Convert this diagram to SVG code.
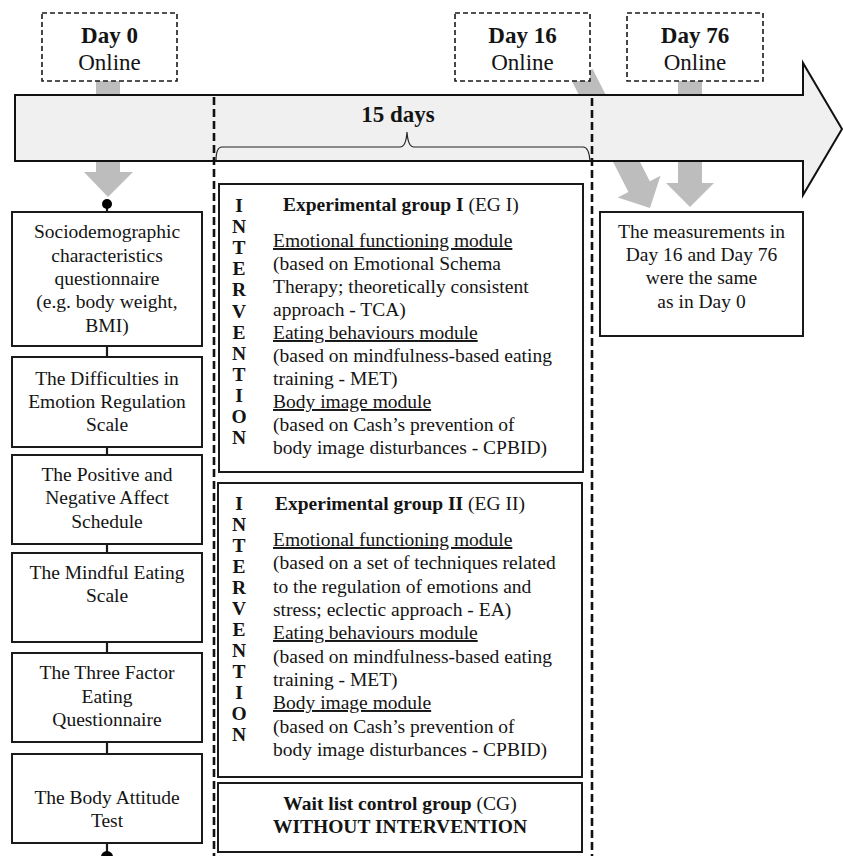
<svg xmlns="http://www.w3.org/2000/svg" width="843" height="856" viewBox="0 0 843 856" font-family="Liberation Serif, serif" font-size="19.5">
<style>
text{fill:#141414}
.b{font-weight:bold}
.c{text-anchor:middle}
.u{text-decoration:underline}
.big{font-size:23px}
.box{fill:#fff;stroke:#1a1a1a;stroke-width:2}
.dbox{fill:#fff;stroke:#1a1a1a;stroke-width:1.6;stroke-dasharray:5 3}
.garrow{fill:#bdbdbd}
.vdash{stroke:#111;stroke-width:2.6;stroke-dasharray:8 4;fill:none}
.link{stroke:#1a1a1a;stroke-width:2.2}
</style>
<rect width="843" height="856" fill="#fff"/>

<g id="connectors">
  <polygon class="garrow" points="96,75 120,75 120,172 133,172 108,197 84,172 96,172"/>
  <polygon class="garrow" transform="translate(650,208) rotate(-27)" points="0,0 -24,-24 -12,-24 -12,-150 12,-150 12,-24 24,-24"/>
  <polygon class="garrow" points="678,75 702,75 702,183 714,183 690,207 666,183 678,183"/>
  <line class="link" x1="107" y1="204" x2="107" y2="212"/>
  <line class="link" x1="107" y1="346" x2="107" y2="357"/>
  <line class="link" x1="107" y1="447" x2="107" y2="455"/>
  <line class="link" x1="107" y1="544" x2="107" y2="553"/>
  <line class="link" x1="107" y1="642" x2="107" y2="653"/>
  <line class="link" x1="107" y1="742" x2="107" y2="754"/>
  <line class="link" x1="107" y1="843" x2="107" y2="853"/>
  <circle cx="107" cy="204" r="5" fill="#000"/>
  <circle cx="107" cy="857" r="6" fill="#000"/>
</g>

<g id="day0">
  <rect class="dbox" x="42" y="13" width="135" height="68"/>
  <text class="b c big" x="109.5" y="43">Day 0</text>
  <text class="c big" x="109.5" y="70">Online</text>
</g>
<g id="day16">
  <rect class="dbox" x="455" y="13" width="135" height="68"/>
  <text class="b c big" x="522.5" y="43">Day 16</text>
  <text class="c big" x="522.5" y="70">Online</text>
</g>
<g id="day76">
  <rect class="dbox" x="627" y="13" width="136" height="68"/>
  <text class="b c big" x="695" y="43">Day 76</text>
  <text class="c big" x="695" y="70">Online</text>
</g>

<g id="timeline">
  <polygon points="15,95 803,95 803,63 842,129 803,195 803,161 15,161" fill="#f0f0f0" stroke="#111" stroke-width="2"/>
  <text class="b c big" x="398" y="122">15 days</text>
  <path d="M216,161 Q216,147 222,147 L400,147 Q406,147 407,132 Q408,147 414,147 L583,147 Q589,147 590,161" fill="none" stroke="#222" stroke-width="1.2"/>
</g>

<g id="dividers">
  <line class="vdash" x1="214" y1="97" x2="214" y2="856"/>
  <line class="vdash" x1="592" y1="98" x2="592" y2="856"/>
</g>

<g id="socio">
  <rect class="box" x="12" y="212" width="190" height="134"/>
  <text class="c" x="107" y="238">Sociodemographic</text>
  <text class="c" x="107" y="262">characteristics</text>
  <text class="c" x="107" y="285">questionnaire</text>
  <text class="c" x="107" y="308">(e.g. body weight,</text>
  <text class="c" x="107" y="332">BMI)</text>
</g>
<g id="ders">
  <rect class="box" x="12" y="357" width="190" height="90"/>
  <text class="c" x="107" y="385">The Difficulties in</text>
  <text class="c" x="107" y="408">Emotion Regulation</text>
  <text class="c" x="107" y="431">Scale</text>
</g>
<g id="panas">
  <rect class="box" x="12" y="455" width="190" height="89"/>
  <text class="c" x="107" y="481">The Positive and</text>
  <text class="c" x="107" y="504">Negative Affect</text>
  <text class="c" x="107" y="528">Schedule</text>
</g>
<g id="mes">
  <rect class="box" x="12" y="553" width="190" height="89"/>
  <text class="c" x="107" y="579">The Mindful Eating</text>
  <text class="c" x="107" y="602">Scale</text>
</g>
<g id="tfeq">
  <rect class="box" x="12" y="653" width="190" height="89"/>
  <text class="c" x="107" y="679">The Three Factor</text>
  <text class="c" x="107" y="703">Eating</text>
  <text class="c" x="107" y="726">Questionnaire</text>
</g>
<g id="bat">
  <rect class="box" x="12" y="754" width="190" height="89"/>
  <text class="c" x="107" y="804">The Body Attitude</text>
  <text class="c" x="107" y="827">Test</text>
</g>

<g id="eg1">
  <rect class="box" x="219" y="184" width="364" height="288"/>
  <text class="b c" x="239" y="212">I</text>
  <text class="b c" x="239" y="233">N</text>
  <text class="b c" x="239" y="254">T</text>
  <text class="b c" x="239" y="275">E</text>
  <text class="b c" x="239" y="296">R</text>
  <text class="b c" x="239" y="318">V</text>
  <text class="b c" x="239" y="339">E</text>
  <text class="b c" x="239" y="360">N</text>
  <text class="b c" x="239" y="381">T</text>
  <text class="b c" x="239" y="402">I</text>
  <text class="b c" x="239" y="423">O</text>
  <text class="b c" x="239" y="444">N</text>
  <text x="283" y="211"><tspan class="b">Experimental group I</tspan> (EG I)</text>
  <text class="u" x="273" y="247">Emotional functioning module</text>
  <text x="273" y="270">(based on Emotional Schema</text>
  <text x="273" y="293">Therapy; theoretically consistent</text>
  <text x="273" y="316">approach - TCA)</text>
  <text class="u" x="273" y="339">Eating behaviours module</text>
  <text x="273" y="362">(based on mindfulness-based eating</text>
  <text x="273" y="385">training - MET)</text>
  <text class="u" x="273" y="408">Body image module</text>
  <text x="273" y="431">(based on Cash’s prevention of</text>
  <text x="273" y="454">body image disturbances - CPBID)</text>
</g>

<g id="eg2">
  <rect class="box" x="218" y="483" width="364" height="294"/>
  <text class="b c" x="239" y="510">I</text>
  <text class="b c" x="239" y="531">N</text>
  <text class="b c" x="239" y="552">T</text>
  <text class="b c" x="239" y="573">E</text>
  <text class="b c" x="239" y="594">R</text>
  <text class="b c" x="239" y="615">V</text>
  <text class="b c" x="239" y="636">E</text>
  <text class="b c" x="239" y="657">N</text>
  <text class="b c" x="239" y="678">T</text>
  <text class="b c" x="239" y="699">I</text>
  <text class="b c" x="239" y="720">O</text>
  <text class="b c" x="239" y="741">N</text>
  <text x="275" y="510"><tspan class="b">Experimental group II</tspan> (EG II)</text>
  <text class="u" x="273" y="546">Emotional functioning module</text>
  <text x="273" y="569">(based on a set of techniques related</text>
  <text x="273" y="593">to the regulation of emotions and</text>
  <text x="273" y="616">stress; eclectic approach - EA)</text>
  <text class="u" x="273" y="639">Eating behaviours module</text>
  <text x="273" y="663">(based on mindfulness-based eating</text>
  <text x="273" y="686">training - MET)</text>
  <text class="u" x="273" y="709">Body image module</text>
  <text x="273" y="733">(based on Cash’s prevention of</text>
  <text x="273" y="756">body image disturbances - CPBID)</text>
</g>

<g id="cg">
  <rect class="box" x="218" y="783" width="364" height="69"/>
  <text class="c" x="400" y="810"><tspan class="b">Wait list control group</tspan> (CG)</text>
  <text class="b c" x="400" y="833">WITHOUT INTERVENTION</text>
</g>

<g id="measure">
  <rect class="box" x="600" y="212" width="203" height="124"/>
  <text class="c" x="701.5" y="238">The measurements in</text>
  <text class="c" x="701.5" y="261">Day 16 and Day 76</text>
  <text class="c" x="701.5" y="284">were the same</text>
  <text class="c" x="701.5" y="308">as in Day 0</text>
</g>
</svg>
